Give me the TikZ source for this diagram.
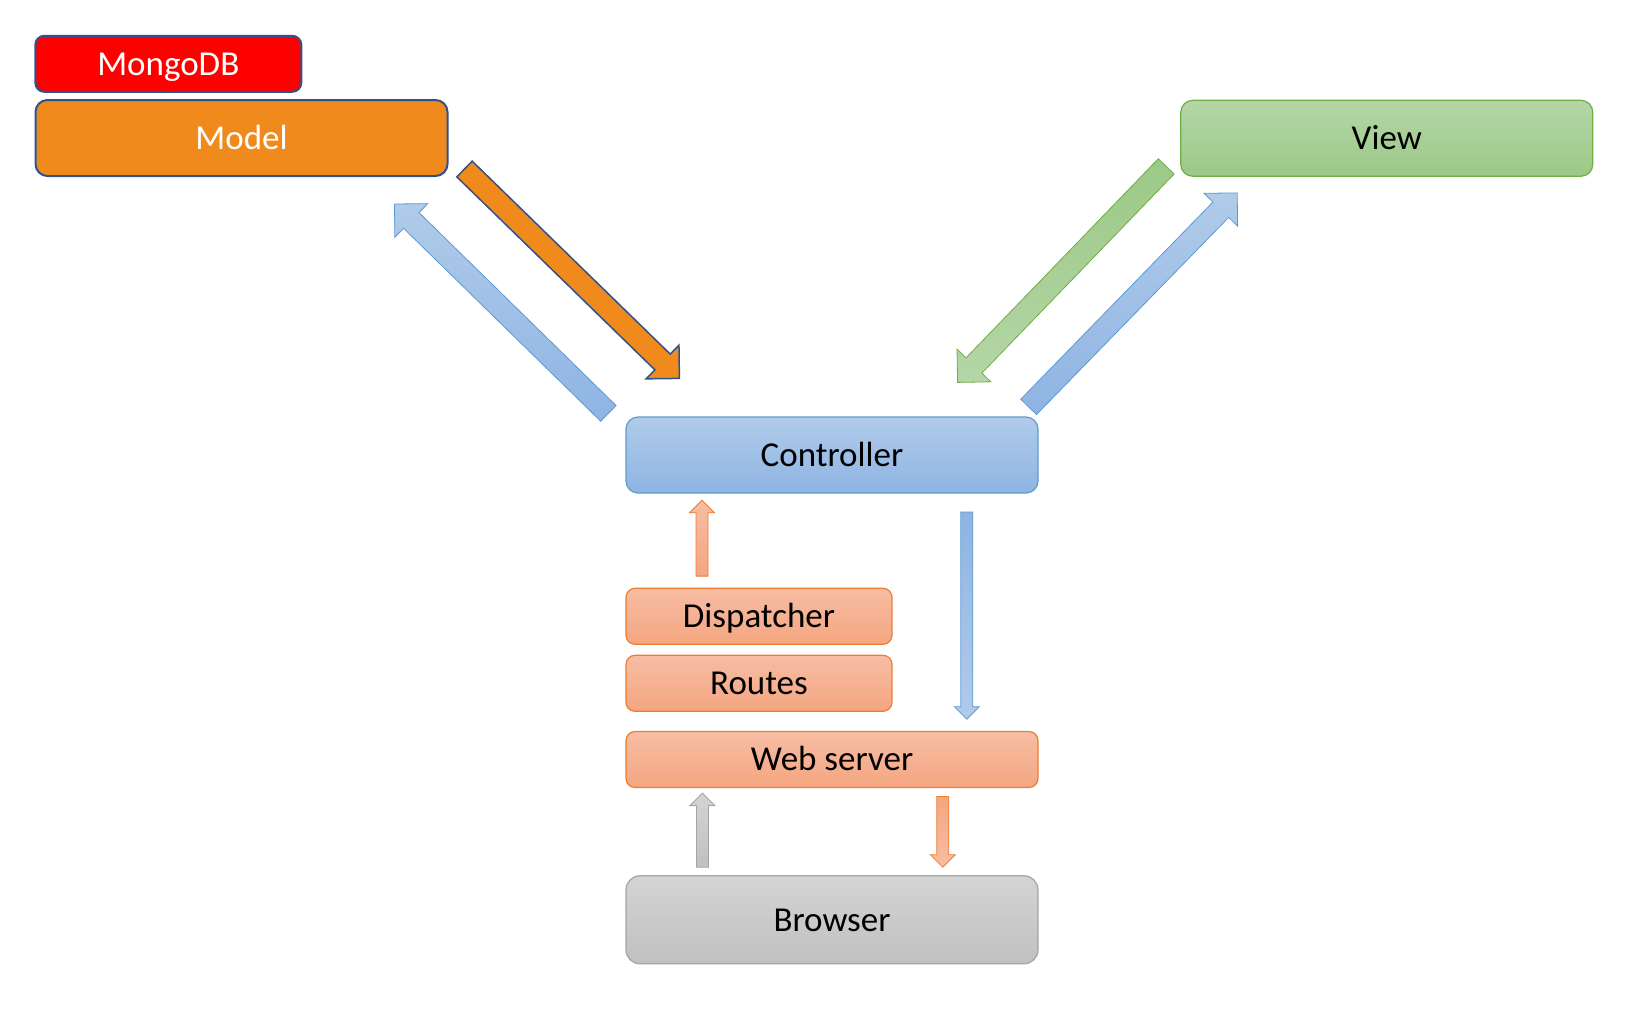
\documentclass[tikz,border=0pt]{standalone}
\usepackage{fontspec}
\setmainfont{Carlito}
\usetikzlibrary{calc}

\definecolor{mongored}{HTML}{FF0000}
\definecolor{modelor}{HTML}{F08A1C}
\definecolor{navyln}{HTML}{2F528F}
\definecolor{bluelt}{HTML}{B1CBE9}
\definecolor{bluedk}{HTML}{8EB4E3}
\definecolor{blueln}{HTML}{5B9BD5}
\definecolor{greenlt}{HTML}{B5D6A7}
\definecolor{greendk}{HTML}{9BC986}
\definecolor{greenln}{HTML}{70AD47}
\definecolor{orlt}{HTML}{F7BDA4}
\definecolor{ordk}{HTML}{F4A680}
\definecolor{orln}{HTML}{ED7D31}
\definecolor{graylt}{HTML}{D4D4D4}
\definecolor{graydk}{HTML}{C0C0C0}
\definecolor{grayln}{HTML}{A5A5A5}

% block arrow: style, from, to, half shaft, head
\newcommand{\blockarrow}[5]{%
    \path[#1]
        ($(#2)!#4!90:(#3)$) -- ($($(#3)!#5!(#2)$)!#4!90:(#3)$)
        -- ($($(#3)!#5!(#2)$)!#5!90:(#3)$) -- (#3)
        -- ($($(#3)!#5!(#2)$)!#5!-90:(#3)$) -- ($($(#3)!#5!(#2)$)!#4!-90:(#3)$)
        -- ($(#2)!#4!-90:(#3)$) -- cycle;}

\begin{document}
\begin{tikzpicture}[x=1pt, y=-1pt,
    box/.style={rounded corners=9pt, minimum width=266pt, minimum height=56pt,
        inner sep=0pt, text height=22.5pt, text depth=0pt,
        font=\fontsize{35}{42}\selectfont, line width=1.2pt},
    wide/.style={minimum width=412pt},
    tall/.style={minimum height=76pt, rounded corners=12pt},
    bluebox/.style={top color=bluelt, bottom color=bluedk, draw=blueln},
    greenbox/.style={top color=greenlt, bottom color=greendk, draw=greenln},
    orbox/.style={top color=orlt, bottom color=ordk, draw=orln},
    graybox/.style={top color=graylt, bottom color=graydk, draw=grayln}]

    \useasboundingbox (0,0) rectangle (1642,1033);

    \node[box, fill=mongored, draw=navyln, text=white, line width=2pt]
        (mongo) at (168.3,63.8) {MongoDB};
    \node[box, wide, tall, fill=modelor, draw=navyln, text=white, line width=2pt]
        (model) at (241.5,138) {Model};
    \node[box, wide, tall, greenbox] (view) at (1386.8,138.3) {View};
    \node[box, wide, tall, bluebox] (ctrl) at (832,455) {Controller};
    \node[box, orbox] (disp) at (759,616.3) {Dispatcher};
    \node[box, orbox] (routes) at (759,683.3) {Routes};
    \node[box, wide, orbox] (web) at (832,759.5) {Web server};
    \node[box, wide, minimum height=88pt, rounded corners=14pt, graybox]
        (browser) at (832,919.8) {Browser};

    \coordinate (mc from) at ($(model.south east)+(16,-8)$);
    \coordinate (mc to) at ($(ctrl.north west)+(54,-38)$);
    \coordinate (cm from) at ($(ctrl.north west)+(-17,-3)$);
    \coordinate (cm to) at ($(model.south east)+(-54,27)$);
    \coordinate (vc from) at ($(view.south west)+(-14,-10.5)$);
    \coordinate (vc to) at ($(ctrl.north east)+(-81,-34)$);
    \coordinate (cv from) at ($(ctrl.north east)+(-10,-9.5)$);
    \coordinate (cv to) at ($(view.south west)+(57,16)$);

    \coordinate (dc from) at ($(disp.north west)+(76.6,-11.6)$);
    \coordinate (dc to) at ($(ctrl.south west)+(76.6,6.7)$);
    \coordinate (cw from) at ($(ctrl.south east)+(-71.8,18.4)$);
    \coordinate (cw to) at ($(web.north east)+(-71.8,-11.7)$);
    \coordinate (bw from) at ($(browser.north west)+(77,-8)$);
    \coordinate (bw to) at ($(web.south west)+(77,5)$);
    \coordinate (wb from) at ($(web.south east)+(-95.8,8.4)$);
    \coordinate (wb to) at ($(browser.north east)+(-95.8,-8)$);

    \blockarrow{fill=modelor, draw=navyln, line width=1.5pt}{mc from}{mc to}{11pt}{23.5pt}
    \blockarrow{top color=bluelt, bottom color=bluedk, draw=blueln, line width=0.8pt}{cm from}{cm to}{11pt}{23.5pt}
    \blockarrow{top color=greendk, bottom color=greenlt, draw=greenln, line width=0.8pt}{vc from}{vc to}{11pt}{23.5pt}
    \blockarrow{top color=bluelt, bottom color=bluedk, draw=blueln, line width=0.8pt}{cv from}{cv to}{11pt}{23.5pt}

    \blockarrow{top color=orlt, bottom color=ordk, draw=orln, line width=0.8pt}{dc from}{dc to}{6pt}{12.5pt}
    \blockarrow{top color=bluedk, bottom color=bluelt, draw=blueln, line width=0.8pt}{cw from}{cw to}{6pt}{12.5pt}
    \blockarrow{top color=graylt, bottom color=graydk, draw=grayln, line width=0.8pt}{bw from}{bw to}{6pt}{12.5pt}
    \blockarrow{top color=ordk, bottom color=orlt, draw=orln, line width=0.8pt}{wb from}{wb to}{6pt}{12.5pt}

\end{tikzpicture}
\end{document}
